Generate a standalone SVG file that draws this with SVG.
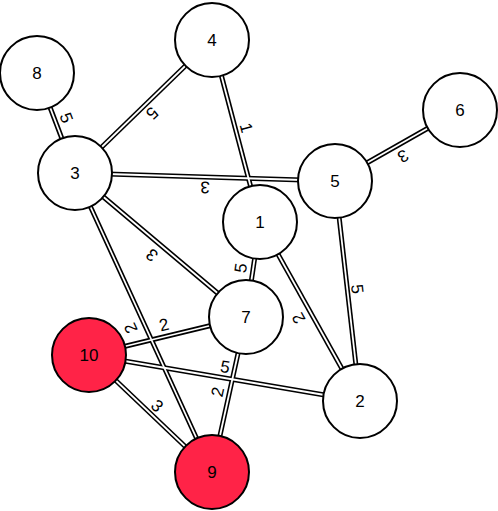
<svg xmlns="http://www.w3.org/2000/svg" width="498" height="511" viewBox="0 0 498 511">
<style>
.o{stroke:#000;stroke-width:5;fill:none}
.i{stroke:#fff;stroke-width:1.8;fill:none}
.n circle{stroke:#000;stroke-width:2;fill:#fff}
.n.r circle{fill:#ff2347}
text{font-family:"Liberation Sans",Arial,sans-serif;font-size:17px;fill:#000;text-anchor:middle;dominant-baseline:central}
</style>
<rect width="498" height="511" fill="#fff"/>
<g id="connectors">
<g class="o">
<line x1="37" y1="73" x2="75" y2="173"/>
<line x1="212" y1="40" x2="75" y2="173"/>
<line x1="212" y1="40" x2="260" y2="222"/>
<line x1="75" y1="173" x2="335" y2="181"/>
<line x1="335" y1="181" x2="460" y2="110"/>
<line x1="75" y1="173" x2="246" y2="317"/>
<line x1="75" y1="173" x2="212" y2="472"/>
<line x1="260" y1="222" x2="246" y2="317"/>
<line x1="260" y1="222" x2="360" y2="401"/>
<line x1="335" y1="181" x2="360" y2="401"/>
<line x1="89" y1="355" x2="246" y2="317"/>
<line x1="89" y1="355" x2="360" y2="401"/>
<line x1="89" y1="355" x2="212" y2="472"/>
<line x1="246" y1="317" x2="212" y2="472"/>
</g>
<g class="i">
<line x1="37" y1="73" x2="75" y2="173"/>
<line x1="212" y1="40" x2="75" y2="173"/>
<line x1="212" y1="40" x2="260" y2="222"/>
<line x1="75" y1="173" x2="335" y2="181"/>
<line x1="335" y1="181" x2="460" y2="110"/>
<line x1="75" y1="173" x2="246" y2="317"/>
<line x1="75" y1="173" x2="212" y2="472"/>
<line x1="260" y1="222" x2="246" y2="317"/>
<line x1="260" y1="222" x2="360" y2="401"/>
<line x1="335" y1="181" x2="360" y2="401"/>
<line x1="89" y1="355" x2="246" y2="317"/>
<line x1="89" y1="355" x2="360" y2="401"/>
<line x1="89" y1="355" x2="212" y2="472"/>
<line x1="246" y1="317" x2="212" y2="472"/>
</g>
<g id="edge-labels">
<text transform="translate(66,118) rotate(69)">5</text>
<text transform="translate(152,113) rotate(136)">5</text>
<text transform="translate(246,128) rotate(75)">1</text>
<text transform="translate(205,187) rotate(182)">3</text>
<text transform="translate(403,156) rotate(150)">3</text>
<text transform="translate(152,255) rotate(220)">3</text>
<text transform="translate(131,328) rotate(-114.6)">2</text>
<text transform="translate(241,268) rotate(-81.6)">5</text>
<text transform="translate(299,318) rotate(240.8)">2</text>
<text transform="translate(357,289) rotate(83.5)">5</text>
<text transform="translate(164,325) rotate(-13.6)">2</text>
<text transform="translate(225,367) rotate(9.6)">5</text>
<text transform="translate(218,392) rotate(-77.6)">2</text>
<text transform="translate(157,406) rotate(43.6)">3</text>
</g>
</g>
<g id="node-1" class="n"><circle cx="260" cy="222" r="37"/><text x="260" y="222">1</text></g>
<g id="node-2" class="n"><circle cx="360" cy="401" r="37"/><text x="360" y="401">2</text></g>
<g id="node-3" class="n"><circle cx="75" cy="173" r="37"/><text x="75" y="173">3</text></g>
<g id="node-4" class="n"><circle cx="212" cy="40" r="37"/><text x="212" y="40">4</text></g>
<g id="node-5" class="n"><circle cx="335" cy="181" r="37"/><text x="335" y="181">5</text></g>
<g id="node-6" class="n"><circle cx="460" cy="110" r="37"/><text x="460" y="110">6</text></g>
<g id="node-7" class="n"><circle cx="246" cy="317" r="37"/><text x="246" y="317">7</text></g>
<g id="node-8" class="n"><circle cx="37" cy="73" r="37"/><text x="37" y="73">8</text></g>
<g id="node-9" class="n r"><circle cx="212" cy="472" r="37"/><text x="212" y="472">9</text></g>
<g id="node-10" class="n r"><circle cx="89" cy="355" r="37"/><text x="89" y="355">10</text></g>
</svg>
